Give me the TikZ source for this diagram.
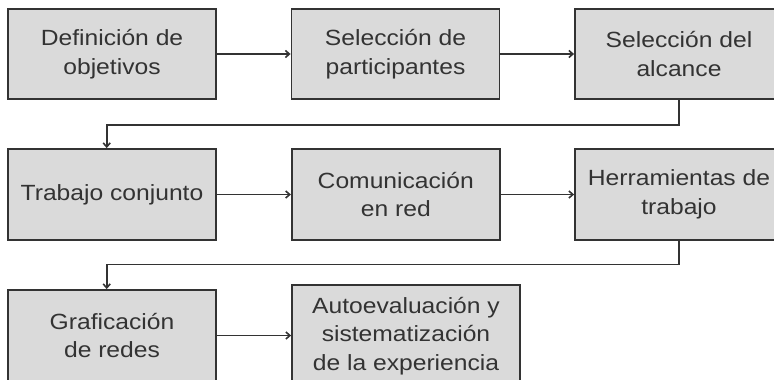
\documentclass[tikz,border=0pt]{standalone}
\usepackage{fontspec}
\setmainfont{Liberation Sans}[FakeStretch=1.12]
\usetikzlibrary{arrows.meta}
\definecolor{boxfill}{HTML}{DADADA}
\definecolor{ink}{HTML}{333333}
\begin{document}
\begin{tikzpicture}[x=1pt,y=-1pt,
  stepbox/.style={draw=ink, line width=1.8pt, fill=boxfill, text=ink,
    minimum width=208pt, minimum height=90pt, inner sep=0pt, align=center,
    font=\fontsize{22}{28.5}\selectfont},
  link/.style={draw=ink, line width=1.6pt, -{Straight Barb[length=4pt,width=7pt]}}]
\useasboundingbox (0,0) rectangle (774,380);
\begin{scope}
\clip (0,0) rectangle (774,380);
\node[stepbox] (b1) at (112,54) {Definición de\\objetivos};
\node[stepbox] (b2) at (395.5,54) {Selección de\\participantes};
\node[stepbox] (b3) at (679,54) {Selección del\\alcance};
\node[stepbox, minimum height=91pt] (b4) at (112,194.5) {Trabajo conjunto};
\node[stepbox, minimum height=91pt] (b5) at (395.8,194.5) {Comunicación\\en red};
\node[stepbox, minimum height=91pt] (b6) at (679,194.5) {Herramientas de\\trabajo};
\node[stepbox, minimum height=91pt] (b7) at (112,335.5) {Graficación\\de redes};
\node[stepbox, minimum width=228pt, minimum height=101pt] (b8) at (406,335.7) {Autoevaluación y\\sistematización\\de la experiencia};
\coordinate (k1) at (106.7,124.7);
\coordinate (k2) at (106.7,264.3);
\draw[link] (b1.east) -- (b2.west);
\draw[link] (b2.east) -- (b3.west);
\draw[link] (b3.south) |- (k1) -- (k1 |- b4.north);
\draw[link] (b4.east) -- (b4.east -| b5.west);
\draw[link] (b5.east) -- (b6.west);
\draw[link] (b6.south) |- (k2) -- (k2 |- b7.north);
\draw[link] (b7.east) -- (b7.east -| b8.west);
\end{scope}
\end{tikzpicture}
\end{document}
